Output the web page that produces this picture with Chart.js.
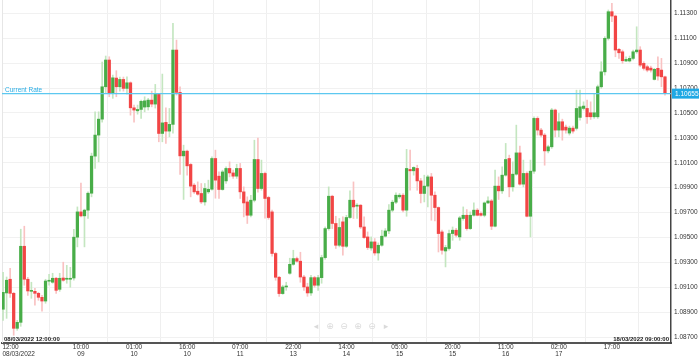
<!DOCTYPE html>
<html><head><meta charset="utf-8">
<script src="https://cdn.jsdelivr.net/npm/chart.js@4.4.1/dist/chart.umd.min.js"></script>
<style>html,body{margin:0;padding:0;background:#fff;overflow:hidden}#wrap{width:699px;height:356px;position:relative}</style>
</head><body><div id="wrap"><canvas id="c" width="699" height="356"></canvas></div>
<script>
const open=[1.08923,1.09054,1.09164,1.09051,1.08770,1.08818,1.09429,1.09164,1.09067,1.09067,1.09051,1.09019,1.08989,1.09148,1.09140,1.09172,1.09083,1.09174,1.09164,1.09164,1.09174,1.09502,1.09705,1.09673,1.09719,1.09855,1.10153,1.10322,1.10450,1.10710,
1.10925,1.10662,1.10780,1.10710,1.10769,1.10697,1.10742,1.10541,1.10517,1.10528,1.10547,1.10549,1.10603,1.10571,1.10649,1.10335,1.10424,1.10354,1.10408,1.11005,
1.10665,1.10155,1.10193,1.10086,1.09920,1.09871,1.09853,1.09785,1.09866,1.09887,1.10134,1.09992,1.09885,1.09954,1.10054,1.10018,1.09992,1.10054,1.09866,1.09785,
1.09678,1.09799,1.10126,1.09893,1.10014,1.09821,1.09705,1.09371,1.09180,1.09049,1.09102,1.09212,1.09284,1.09330,1.09309,1.09182,1.09102,1.09054,1.09177,1.09116,
1.09177,1.09338,1.09571,1.09831,1.09612,1.09437,1.09625,1.09429,1.09660,1.09799,1.09751,1.09759,1.09584,1.09504,1.09415,1.09464,1.09375,1.09437,1.09510,1.09552,
1.09719,1.09783,1.09826,1.09839,1.09719,1.10046,1.10035,1.10054,1.09954,1.09853,1.09912,1.09986,1.09839,1.09740,1.09544,1.09391,1.09411,1.09531,1.09558,1.09504,
1.09652,1.09678,1.09571,1.09678,1.09719,1.09692,1.09678,1.09777,1.09793,1.09590,1.09912,1.09874,1.10000,1.10134,1.09906,1.10008,1.10179,1.09928,1.10014,1.09670,
1.10032,1.10456,1.10362,1.10322,1.10195,1.10228,1.10523,1.10362,1.10429,1.10386,1.10338,1.10378,1.10376,1.10464,1.10536,1.10536,1.10501,1.10469,1.10469,1.10710,
1.10830,1.11099,1.11313,1.11278,1.11011,1.10991,1.10917,1.10917,1.10938,1.10991,1.11005,1.10898,1.10871,1.10860,1.10769,1.10858,1.10844,1.10790];
const high=[1.09220,1.09182,1.09252,1.09059,1.08834,1.09566,1.09590,1.09180,1.09140,1.09091,1.09059,1.09035,1.09164,1.09204,1.09212,1.09180,1.09212,1.09301,1.09276,1.09260,1.09566,1.09745,1.09936,1.09727,1.09866,1.10177,1.10509,1.10509,1.10909,1.10957,
1.10951,1.10804,1.10839,1.10788,1.10788,1.10790,1.10750,1.10563,1.10563,1.10603,1.10630,1.10617,1.10675,1.10729,1.10657,1.10812,1.10541,1.10536,1.11220,1.11085,
1.10710,1.10241,1.10201,1.10094,1.09933,1.09946,1.09933,1.09933,1.09960,1.10147,1.10201,1.10026,1.10040,1.10067,1.10107,1.10040,1.10088,1.10094,1.09906,1.09826,
1.09839,1.10281,1.10298,1.10121,1.10024,1.09831,1.09719,1.09381,1.09188,1.09116,1.09140,1.09333,1.09397,1.09343,1.09381,1.09196,1.09132,1.09196,1.09188,1.09196,
1.09357,1.09584,1.09906,1.09839,1.09670,1.09652,1.09665,1.09678,1.09874,1.09946,1.09772,1.09764,1.09665,1.09544,1.09504,1.09491,1.09456,1.09558,1.09571,1.09764,
1.09799,1.09858,1.09853,1.09853,1.10207,1.10201,1.10067,1.10080,1.09974,1.10000,1.10000,1.10014,1.09866,1.09745,1.09558,1.09437,1.09558,1.09584,1.09574,1.09670,
1.09745,1.09724,1.09705,1.09777,1.09732,1.09705,1.09785,1.09826,1.09805,1.10040,1.09986,1.10067,1.10255,1.10161,1.10107,1.10402,1.10233,1.10121,1.10026,1.10121,
1.10469,1.10469,1.10376,1.10335,1.10241,1.10536,1.10531,1.10496,1.10450,1.10402,1.10394,1.10394,1.10683,1.10683,1.10589,1.10603,1.10589,1.10657,1.10724,1.10911,
1.11112,1.11327,1.11380,1.11286,1.11019,1.11005,1.10951,1.10957,1.11005,1.11192,1.11032,1.10911,1.10884,1.10876,1.10858,1.10951,1.10938,1.10796];
const low=[1.08834,1.08850,1.09019,1.08714,1.08754,1.08786,1.09116,1.09035,1.09011,1.08955,1.08995,1.08907,1.08971,1.09116,1.09132,1.09051,1.09067,1.09148,1.09132,1.09100,1.09156,1.09424,1.09665,1.09424,1.09652,1.09826,1.10054,1.10107,1.10426,1.10659,
1.10630,1.10617,1.10630,1.10675,1.10675,1.10651,1.10482,1.10426,1.10490,1.10456,1.10509,1.10523,1.10549,1.10539,1.10268,1.10268,1.10255,1.10308,1.10338,1.10643,
1.10006,1.09805,1.10000,1.09826,1.09853,1.09839,1.09772,1.09759,1.09853,1.09879,1.09815,1.09813,1.09879,1.09933,1.09986,1.09974,1.09974,1.09813,1.09665,1.09612,
1.09665,1.09785,1.09863,1.09879,1.09654,1.09646,1.09349,1.09156,1.09027,1.09043,1.09075,1.09204,1.09276,1.09301,1.09140,1.09075,1.09027,1.09035,1.09100,1.09075,
1.09132,1.09325,1.09558,1.09571,1.09411,1.09424,1.09357,1.09419,1.09652,1.09652,1.09652,1.09571,1.09491,1.09403,1.09397,1.09357,1.09317,1.09429,1.09504,1.09531,
1.09705,1.09772,1.09813,1.09705,1.09670,1.09879,1.10000,1.09879,1.09777,1.09785,1.09745,1.09638,1.09633,1.09383,1.09365,1.09263,1.09397,1.09477,1.09504,1.09477,
1.09638,1.09558,1.09563,1.09670,1.09673,1.09670,1.09665,1.09772,1.09563,1.09584,1.09805,1.09853,1.09992,1.09826,1.09871,1.10000,1.09920,1.09906,1.09665,1.09504,
1.10014,1.10322,1.10308,1.10080,1.10179,1.10215,1.10308,1.10308,1.10281,1.10338,1.10322,1.10338,1.10362,1.10442,1.10523,1.10416,1.10448,1.10456,1.10456,1.10697,
1.10804,1.11085,1.11232,1.10951,1.10938,1.10898,1.10911,1.10909,1.10925,1.10979,1.10871,1.10844,1.10830,1.10828,1.10764,1.10764,1.10710,1.10643];
const close=[1.09059,1.09156,1.09051,1.08770,1.08818,1.09429,1.09164,1.09070,1.09075,1.09051,1.09019,1.08989,1.09150,1.09152,1.09172,1.09075,1.09172,1.09156,1.09168,1.09172,1.09502,1.09705,1.09673,1.09719,1.09855,1.10153,1.10322,1.10450,1.10710,1.10925,
1.10662,1.10782,1.10710,1.10769,1.10697,1.10742,1.10541,1.10523,1.10528,1.10593,1.10597,1.10603,1.10571,1.10649,1.10335,1.10420,1.10354,1.10408,1.11005,1.10665,
1.10155,1.10193,1.10075,1.09912,1.09866,1.09847,1.09785,1.09893,1.09887,1.10134,1.09960,1.09885,1.10026,1.10054,1.10018,1.09992,1.10054,1.09866,1.09777,1.09678,
1.09799,1.10126,1.09893,1.10014,1.09813,1.09660,1.09371,1.09180,1.09049,1.09102,1.09108,1.09284,1.09330,1.09309,1.09182,1.09102,1.09054,1.09177,1.09116,1.09177,
1.09338,1.09571,1.09831,1.09612,1.09437,1.09580,1.09429,1.09660,1.09799,1.09745,1.09759,1.09584,1.09499,1.09419,1.09464,1.09375,1.09437,1.09510,1.09552,1.09719,
1.09783,1.09839,1.09839,1.09719,1.10054,1.10035,1.10062,1.09954,1.09853,1.09912,1.09986,1.09839,1.09740,1.09531,1.09397,1.09419,1.09531,1.09558,1.09518,1.09657,
1.09678,1.09571,1.09678,1.09719,1.09678,1.09678,1.09777,1.09793,1.09590,1.09912,1.09874,1.10000,1.10126,1.09906,1.10008,1.10179,1.09928,1.10014,1.09670,1.10032,
1.10456,1.10362,1.10322,1.10195,1.10228,1.10523,1.10362,1.10429,1.10362,1.10362,1.10378,1.10354,1.10536,1.10549,1.10555,1.10469,1.10469,1.10501,1.10710,1.10830,
1.11099,1.11313,1.11278,1.11005,1.10983,1.10919,1.10930,1.10938,1.10991,1.11005,1.10884,1.10858,1.10844,1.10844,1.10850,1.10796,1.10790,1.10655];

const xTickPos=[4.42,22,37,52,67,82,97,112,127,142,157,172];
const xTickLabels=[["12:00         ","08/03/2022"],["10:00","09"],["01:00","10"],["16:00","10"],["07:00","11"],["22:00","13"],["14:00","14"],["05:00","15"],["20:00","15"],["11:00","16"],["02:00","17"],["17:00",""]];
const yTickValues=[1.087,1.089,1.091,1.093,1.095,1.097,1.099,1.101,1.103,1.105,1.107,1.109,1.111,1.113];
const currentRate=1.10655;
const currentRateLabel="Current Rate";
const startStamp="08/03/2022 12:00:00";
const endStamp="18/03/2022 09:00:00";

const GREEN='#48ad48', RED='#f24545', GREEN_W='#c4e6c0', RED_W='#f9c2c2';
const FONT="'Liberation Sans', Arial, sans-serif";
const idx=open.map((_,i)=>i);
const up=idx.map(i=>close[i]>=open[i]);

const overlay={
  id:'overlay',
  beforeDatasetsDraw(chart){
    const {ctx,chartArea:a}=chart;
    ctx.save();ctx.strokeStyle='#e6e6e6';ctx.lineWidth=1;
    ctx.beginPath();ctx.moveTo(a.left+0.5,a.top);ctx.lineTo(a.left+0.5,a.bottom);ctx.stroke();
    ctx.restore();
  },
  afterDraw(chart){
    const {ctx,chartArea:a,scales:{y}}=chart;
    const py=y.getPixelForValue(currentRate);
    ctx.save();
    ctx.font="6.5px "+FONT;
    ctx.fillStyle='#2aaee6';
    ctx.textBaseline='alphabetic';ctx.textAlign='left';
    ctx.fillText(currentRateLabel,a.left+3,py-1.5);
    ctx.fillStyle='#1fa8e4';
    ctx.fillRect(a.right+1,py-5,27,10);
    ctx.fillStyle='#ffffff';ctx.textBaseline='middle';
    ctx.fillText(currentRate.toFixed(5),a.right+4,py+0.5);
    ctx.font="bold 6px "+FONT;ctx.fillStyle='#222';ctx.textBaseline='bottom';
    ctx.fillText(startStamp,a.left+2,a.bottom-1);
    ctx.textAlign='right';
    ctx.fillText(endStamp,a.right-2,a.bottom-1);
    ctx.font="9px 'DejaVu Sans'";ctx.fillStyle='#dadada';ctx.textAlign='center';ctx.textBaseline='middle';
    const icons=['◂','⊕','⊖','⊕','⊖','▸'];
    icons.forEach((g,k)=>ctx.fillText(g,316+k*14,327));
    ctx.restore();
  }
};
const noPad=s=>{s.paddingTop=0;s.paddingBottom=0;s.paddingLeft=0;s.paddingRight=0;};

new Chart(document.getElementById('c'),{
  type:'bar',
  data:{datasets:[
    {type:'line',data:[{x:-0.3,y:currentRate},{x:188.7,y:currentRate}],borderColor:'#5cc8f0',borderWidth:1.2,pointRadius:0,order:0},
    {data:idx.map(i=>({x:i,y:[Math.min(open[i],close[i]),Math.max(open[i],close[i])]})),backgroundColor:idx.map(i=>up[i]?GREEN:RED),barThickness:2.6,minBarLength:1,grouped:false,order:1},
    {data:idx.map(i=>({x:i,y:[low[i],high[i]]})),backgroundColor:idx.map(i=>up[i]?GREEN_W:RED_W),barThickness:1,grouped:false,order:2}
  ]},
  options:{
    responsive:false,animation:false,devicePixelRatio:1,
    layout:{padding:{left:2,top:0,right:0,bottom:0}},
    plugins:{legend:{display:false},tooltip:{enabled:false}},
    scales:{
      x:{type:'linear',position:'bottom',min:-0.3,max:188.7,offset:false,
        afterBuildTicks:s=>{s.ticks=xTickPos.map(v=>({value:v}));},
        afterFit:s=>{s.height=13;noPad(s);},
        ticks:{autoSkip:false,maxRotation:0,padding:1,color:'#333',font:{family:FONT,size:6.5,lineHeight:1.0},
          callback:(v,i)=>xTickLabels[i]},
        grid:{color:c=>c.index===0?'rgba(0,0,0,0)':'#efefef',drawTicks:false},
        border:{color:'#555',width:2}},
      y:{position:'right',min:1.08652,max:1.11407,
        afterBuildTicks:s=>{s.ticks=yTickValues.map(v=>({value:v}));},
        afterFit:s=>{s.width=28;noPad(s);},
        ticks:{padding:3,color:'#333',font:{family:FONT,size:6.5},callback:v=>Number(v).toFixed(5)},
        grid:{color:'#f1f1f1',drawTicks:false},
        border:{color:'#444',width:1.5}}
    }
  },
  plugins:[overlay]
});
</script></body></html>
